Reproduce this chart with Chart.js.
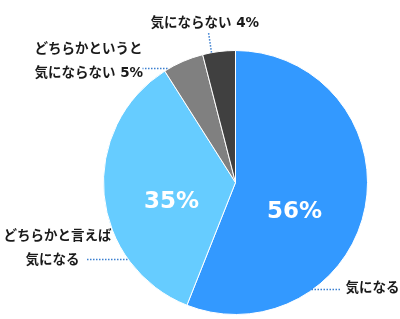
<!DOCTYPE html>
<html>
<head>
<meta charset="utf-8">
<script src="https://cdn.jsdelivr.net/npm/chart.js@4/dist/chart.umd.min.js"></script>
<style>
html,body{margin:0;padding:0;background:#fff;}
#wrap{width:400px;height:319px;position:relative;}
</style>
</head>
<body>
<div id="wrap"><canvas id="c" width="400" height="319"></canvas></div>
<script>
// Data
const categories = ['気になる', 'どちらかと言えば気になる', 'どちらかというと気にならない', '気にならない'];
const values = [56, 35, 5, 4];
const colors = ['#3399ff', '#66ccff', '#808080', '#404040'];

// Label layout (offsets relative to pie center, in px at radius 132)
const labelLayout = [
  {inside: {dx: 59, dy: 30}, lines: ['気になる'], tx: 110, ty: [106], lead: [[76, 107], [105, 107]]},
  {inside: {dx: -64, dy: 20}, lines: ['どちらかと言えば', '気になる'], tx: -232, ty: [54, 78], txs: [-232, -210], lead: [[-108, 77], [-150, 77]]},
  {inside: null, lines: ['どちらかというと', '気にならない ' + values[2] + '%'], tx: -201, ty: [-133, -109], lead: [[-68, -114], [-93, -114]]},
  {inside: null, lines: ['気にならない ' + values[3] + '%'], tx: -85, ty: [-159], lead: [[-24, -130], [-27, -150]]}
];

const labelPlugin = {
  id: 'pieLabels',
  afterDatasetsDraw(chart) {
    const ctx = chart.ctx;
    const meta = chart.getDatasetMeta(0);
    const arc0 = meta.data[0];
    const cx = arc0.x, cy = arc0.y;
    const s = arc0.outerRadius / 132;
    ctx.save();
    meta.data.forEach((arc, i) => {
      const L = labelLayout[i];
      if (L.inside) {
        ctx.font = 'bold 23px "DejaVu Sans", sans-serif';
        ctx.fillStyle = '#ffffff';
        ctx.textAlign = 'center';
        ctx.textBaseline = 'middle';
        ctx.fillText(values[i] + '%', cx + L.inside.dx * s, cy + L.inside.dy * s);
      }
      // leader
      ctx.strokeStyle = '#3b7fd0';
      ctx.lineWidth = 1.5;
      ctx.setLineDash([1.5, 1.5]);
      ctx.beginPath();
      ctx.moveTo(cx + L.lead[0][0] * s, cy + L.lead[0][1] * s);
      ctx.lineTo(cx + L.lead[1][0] * s, cy + L.lead[1][1] * s);
      ctx.stroke();
      ctx.setLineDash([]);
      // text
      ctx.font = 'bold 13.5px "DejaVu Sans", "Noto Sans CJK JP", sans-serif';
      ctx.fillStyle = '#1a1a1a';
      ctx.textAlign = 'left';
      ctx.textBaseline = 'middle';
      L.lines.forEach((t, k) => {
        const x = L.txs ? L.txs[k] : L.tx;
        ctx.fillText(t, cx + x * s, cy + L.ty[k] * s);
      });
    });
    ctx.restore();
  }
};

new Chart(document.getElementById('c'), {
  type: 'pie',
  data: {
    labels: categories,
    datasets: [{
      data: values,
      backgroundColor: colors,
      borderColor: '#ffffff',
      borderWidth: 1
    }]
  },
  options: {
    responsive: false,
    animation: false,
    rotation: 0,
    layout: {padding: {left: 103, right: 32, top: 50, bottom: 4}},
    plugins: {
      legend: {display: false},
      tooltip: {enabled: false},
      title: {display: false}
    }
  },
  plugins: [labelPlugin]
});
</script>
</body>
</html>
